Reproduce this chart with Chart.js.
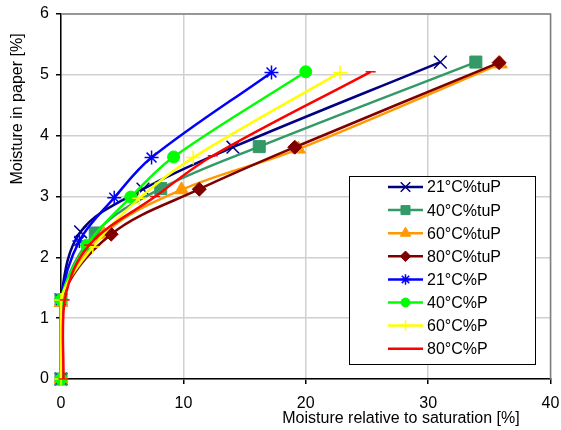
<!DOCTYPE html>
<html>
<head>
<meta charset="utf-8">
<script src="https://cdn.jsdelivr.net/npm/chart.js@4/dist/chart.umd.min.js"></script>
<style>
    html, body { margin: 0; padding: 0; background: #fff; }
    #wrap { width: 561px; height: 430px; }
</style>
</head>
<body>
<div id="wrap"><canvas id="moistureChart" width="561" height="430"></canvas></div>
<script>
// Series values: moisture relative to saturation (x) and moisture in paper (y)
const seriesLabels = ['21°C%tuP', '40°C%tuP', '60°C%tuP', '80°C%tuP', '21°C%P', '40°C%P', '60°C%P', '80°C%P'];

const x21tuP = [0, 0, 1.6, 6.7, 14.05, 31.0];
const y21tuP = [0, 1.3, 2.42, 3.12, 3.81, 5.21];
const x40tuP = [0, 0, 2.8, 8.15, 16.2, 33.9];
const y40tuP = [0, 1.3, 2.4, 3.13, 3.82, 5.21];
const x60tuP = [0, 0, 3.5, 9.85, 19.4, 35.9];
const y60tuP = [0, 1.26, 2.38, 3.11, 3.78, 5.18];
const x80tuP = [0, 0, 4.1, 11.3, 19.1, 35.8];
const y80tuP = [0, 1.3, 2.38, 3.12, 3.81, 5.2];
const x21P = [0, 0, 1.5, 4.35, 7.4, 17.2];
const y21P = [0, 1.3, 2.27, 2.98, 3.64, 5.04];
const x40P = [0, 0, 2.1, 5.7, 9.2, 20.0];
const y40P = [0, 1.3, 2.2, 2.99, 3.65, 5.05];
const x60P = [0, 0, 2.6, 6.4, 10.8, 22.8];
const y60P = [0, 1.3, 2.17, 2.97, 3.64, 5.04];
const x80P = [0.2, 0.3, 2.3, 7.7, 12.4, 25.3];
const y80P = [0, 1.3, 2.2, 3.0, 3.67, 5.05];

const xTickStep = 10;
const yTickStep = 1;

const seriesX = [x21tuP, x40tuP, x60tuP, x80tuP, x21P, x40P, x60P, x80P];
const seriesY = [y21tuP, y40tuP, y60tuP, y80tuP, y21P, y40P, y60P, y80P];

// Look of each series
const colors = ['#000080', '#339966', '#FF9900', '#800000', '#0000FF', '#00FF00', '#FFFF00', '#FF0000'];
const markers = ['crossRot', 'rect', 'triangle', 'rectRot', 'star', 'circle', 'cross', 'line'];
const markerSizes = [9, 8.5, 8, 7, 7, 6, 7, 5];

const FONT = '"Liberation Sans", Arial, sans-serif';

function makeDataset(i) {
    const points = seriesX[i].map((x, k) => ({ x: x, y: seriesY[i][k] }));
    return {
        label: seriesLabels[i],
        data: points,
        borderColor: colors[i],
        backgroundColor: colors[i],
        pointBackgroundColor: colors[i],
        pointBorderColor: colors[i],
        borderWidth: 2.5,
        pointStyle: markers[i],
        pointRadius: markerSizes[i],
        pointBorderWidth: (markers[i] === 'crossRot' || markers[i] === 'star' || markers[i] === 'cross' || markers[i] === 'line') ? 1.5 : 1,
        tension: 0.35,
        showLine: true,
        fill: false,
        clip: false,
        order: seriesLabels.length - i
    };
}

// Frame, axis titles and the boxed legend
const chartDecor = {
    id: 'chartDecor',
    beforeDatasetsDraw(chart) {
        const { ctx, chartArea: a } = chart;
        ctx.save();
        ctx.strokeStyle = '#808080';
        ctx.lineWidth = 1.5;
        ctx.beginPath();
        ctx.moveTo(a.left, a.top);
        ctx.lineTo(a.right, a.top);
        ctx.lineTo(a.right, a.bottom);
        ctx.stroke();
        ctx.restore();
    },
    afterDraw(chart) {
        const ctx = chart.ctx;
        ctx.save();
        ctx.fillStyle = '#000';
        ctx.font = '16px ' + FONT;
        ctx.textBaseline = 'middle';

        // axis titles
        ctx.textAlign = 'center';
        ctx.fillText('Moisture relative to saturation [%]', 401, 419);
        ctx.save();
        ctx.translate(18, 109);
        ctx.rotate(-Math.PI / 2);
        ctx.fillText('Moisture in paper [%]', 0, 0);
        ctx.restore();

        // legend box
        const box = { left: 349.5, top: 176.5, right: 535.5, bottom: 364.5 };
        ctx.fillStyle = '#fff';
        ctx.fillRect(box.left, box.top, box.right - box.left, box.bottom - box.top);
        ctx.strokeStyle = '#000';
        ctx.lineWidth = 1;
        ctx.strokeRect(box.left, box.top, box.right - box.left, box.bottom - box.top);

        chart.data.datasets.forEach((ds, i) => {
            const y = 187 + i * 23.1;
            ctx.strokeStyle = ds.borderColor;
            ctx.lineWidth = 2.5;
            ctx.beginPath();
            ctx.moveTo(388, y);
            ctx.lineTo(423, y);
            ctx.stroke();

            ctx.fillStyle = ds.borderColor;
            ctx.strokeStyle = ds.borderColor;
            ctx.lineWidth = ds.pointBorderWidth;
            Chart.helpers.drawPoint(ctx, {
                pointStyle: ds.pointStyle,
                radius: ds.pointRadius * 0.75,
                rotation: 0,
                borderWidth: ds.pointBorderWidth
            }, 405.5, y);

            ctx.fillStyle = '#000';
            ctx.textAlign = 'left';
            ctx.fillText(ds.label, 427, y + 1);
        });
        ctx.restore();
    }
};

function initChart() {
    const ctx = document.getElementById('moistureChart').getContext('2d');
    return new Chart(ctx, {
        type: 'scatter',
        data: { datasets: seriesLabels.map((_, i) => makeDataset(i)) },
        options: {
            responsive: false,
            animation: false,
            events: [],
            layout: { padding: { top: 14, right: 9, left: 0, bottom: 0 } },
            scales: {
                x: {
                    type: 'linear',
                    min: 0,
                    max: 40,
                    afterFit: s => {
                        s.height = 51;
                        s.paddingLeft = 0;
                        s.paddingRight = 0;
                    },
                    ticks: {
                        stepSize: xTickStep,
                        color: '#000',
                        padding: 10,
                        font: { family: FONT, size: 16 }
                    },
                    grid: { color: '#d0d0d0', lineWidth: 1.5, tickColor: '#000', tickLength: 5 },
                    border: { color: '#000', width: 1.5 }
                },
                y: {
                    type: 'linear',
                    min: 0,
                    max: 6,
                    afterFit: s => {
                        s.width = 61;
                        s.paddingTop = 0;
                        s.paddingBottom = 0;
                    },
                    ticks: {
                        stepSize: yTickStep,
                        color: '#000',
                        padding: 7,
                        font: { family: FONT, size: 16 }
                    },
                    grid: { color: '#d0d0d0', lineWidth: 1.5, tickColor: '#000', tickLength: 5 },
                    border: { color: '#000', width: 1.5 }
                }
            },
            plugins: {
                legend: { display: false },
                tooltip: { enabled: false }
            }
        },
        plugins: [chartDecor]
    });
}

document.addEventListener('DOMContentLoaded', () => {
    initChart();
});
</script>
</body>
</html>
